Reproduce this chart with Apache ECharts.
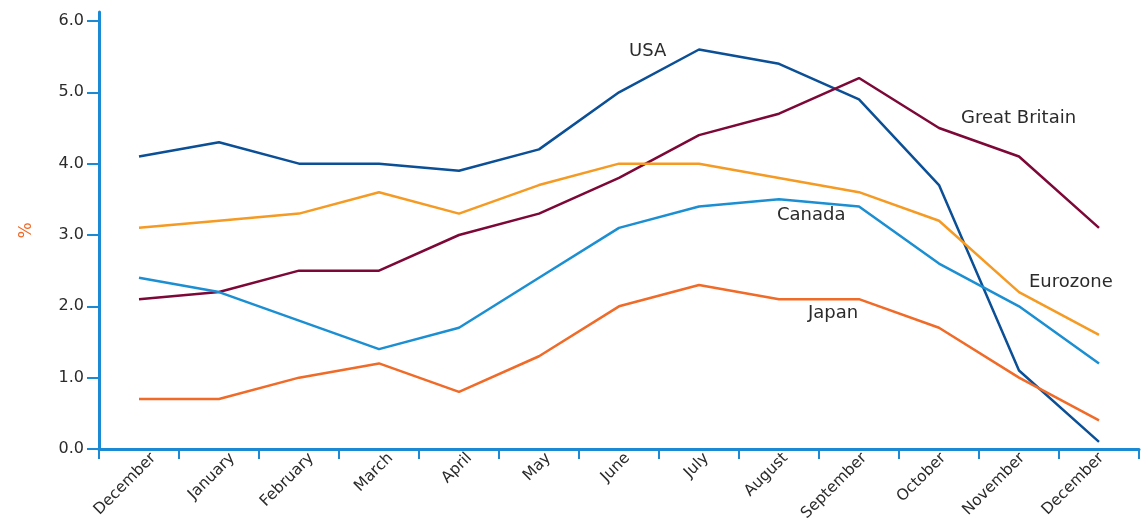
<!DOCTYPE html>
<html>
<head>
<meta charset="utf-8">
<script src="https://cdn.jsdelivr.net/npm/echarts@6/dist/echarts.min.js"></script>
<style>
  html, body { margin: 0; padding: 0; background: #fff; }
  #chart { width: 1141px; height: 524px; }
</style>
</head>
<body>
<div id="chart"></div>
<script>
var chart = echarts.init(document.getElementById('chart'));

// months (the year starts and ends on December)
var months = ['December', 'January', 'February', 'March', 'April', 'May', 'June',
  'July', 'August', 'September', 'October', 'November', 'December'];
var usa = [4.1, 4.3, 4.0, 4.0, 3.9, 4.2, 5.0, 5.6, 5.4, 4.9, 3.7, 1.1, 0.1];
var greatBritain = [2.1, 2.2, 2.5, 2.5, 3.0, 3.3, 3.8, 4.4, 4.7, 5.2, 4.5, 4.1, 3.1];
var eurozone = [3.1, 3.2, 3.3, 3.6, 3.3, 3.7, 4.0, 4.0, 3.8, 3.6, 3.2, 2.2, 1.6];
var canada = [2.4, 2.2, 1.8, 1.4, 1.7, 2.4, 3.1, 3.4, 3.5, 3.4, 2.6, 2.0, 1.2];
var japan = [0.7, 0.7, 1.0, 1.2, 0.8, 1.3, 2.0, 2.3, 2.1, 2.1, 1.7, 1.0, 0.4];
var yTicks = [0, 1, 2, 3, 4, 5, 6];

var axisColor = '#1a8ad4';
var labelFont = '"DejaVu Sans", sans-serif';

function line(name, data, color) {
    return {
        name: name,
        type: 'line',
        data: data,
        symbol: 'none',
        lineStyle: { color: color, width: 2.5 },
        itemStyle: { color: color },
        animation: false
    };
}

// series names written beside the lines
function tag(text, x, y) {
    return {
        type: 'text',
        left: x,
        top: y,
        style: { text: text, fill: '#2b2b2b', font: '18px ' + labelFont }
    };
}

var option = {
    grid: [
        { left: 99, right: 2, top: 12, bottom: 75 },
        // same width, nudged right: only carries the slanted month labels
        { left: 114, right: -13, top: 12, bottom: 75 }
    ],
    xAxis: [{
        type: 'category',
        data: months,
        gridIndex: 0,
        boundaryGap: true,
        axisLine: { lineStyle: { color: axisColor, width: 3 } },
        axisTick: { show: true, interval: 0, length: 10, lineStyle: { color: axisColor, width: 2 } },
        axisLabel: { show: false }
    }, {
        type: 'category',
        data: months,
        gridIndex: 1,
        boundaryGap: true,
        axisLine: { show: false },
        axisTick: { show: false },
        axisLabel: {
            rotate: 45,
            interval: 0,
            margin: 28,
            color: '#2b2b2b',
            fontSize: 15.5,
            fontFamily: labelFont
        }
    }],
    yAxis: [{
        type: 'value',
        gridIndex: 0,
        min: 0,
        max: 6.126,
        name: '%',
        nameLocation: 'middle',
        nameGap: 64,
        nameRotate: 90,
        nameTextStyle: { color: '#f06a28', fontSize: 17, fontFamily: labelFont },
        splitLine: { show: false },
        axisLine: { show: true, lineStyle: { color: axisColor, width: 3 } },
        axisTick: { show: true, length: 12, customValues: yTicks, lineStyle: { color: axisColor, width: 2 } },
        axisLabel: {
            customValues: yTicks,
            margin: 15,
            color: '#2b2b2b',
            fontSize: 16,
            fontFamily: labelFont,
            formatter: function (v) { return v.toFixed(1); }
        }
    }, {
        type: 'value',
        gridIndex: 1,
        show: false
    }],
    series: [
        line('USA', usa, '#0b4f96'),
        line('Great Britain', greatBritain, '#7d0736'),
        line('Eurozone', eurozone, '#f59a23'),
        line('Canada', canada, '#1b8fd2'),
        line('Japan', japan, '#f06a28')
    ],
    graphic: [
        tag('USA', 629, 42),
        tag('Great Britain', 961, 109),
        tag('Canada', 777, 206),
        tag('Eurozone', 1029, 273),
        tag('Japan', 808, 304)
    ]
};

chart.setOption(option);
</script>
</body>
</html>
